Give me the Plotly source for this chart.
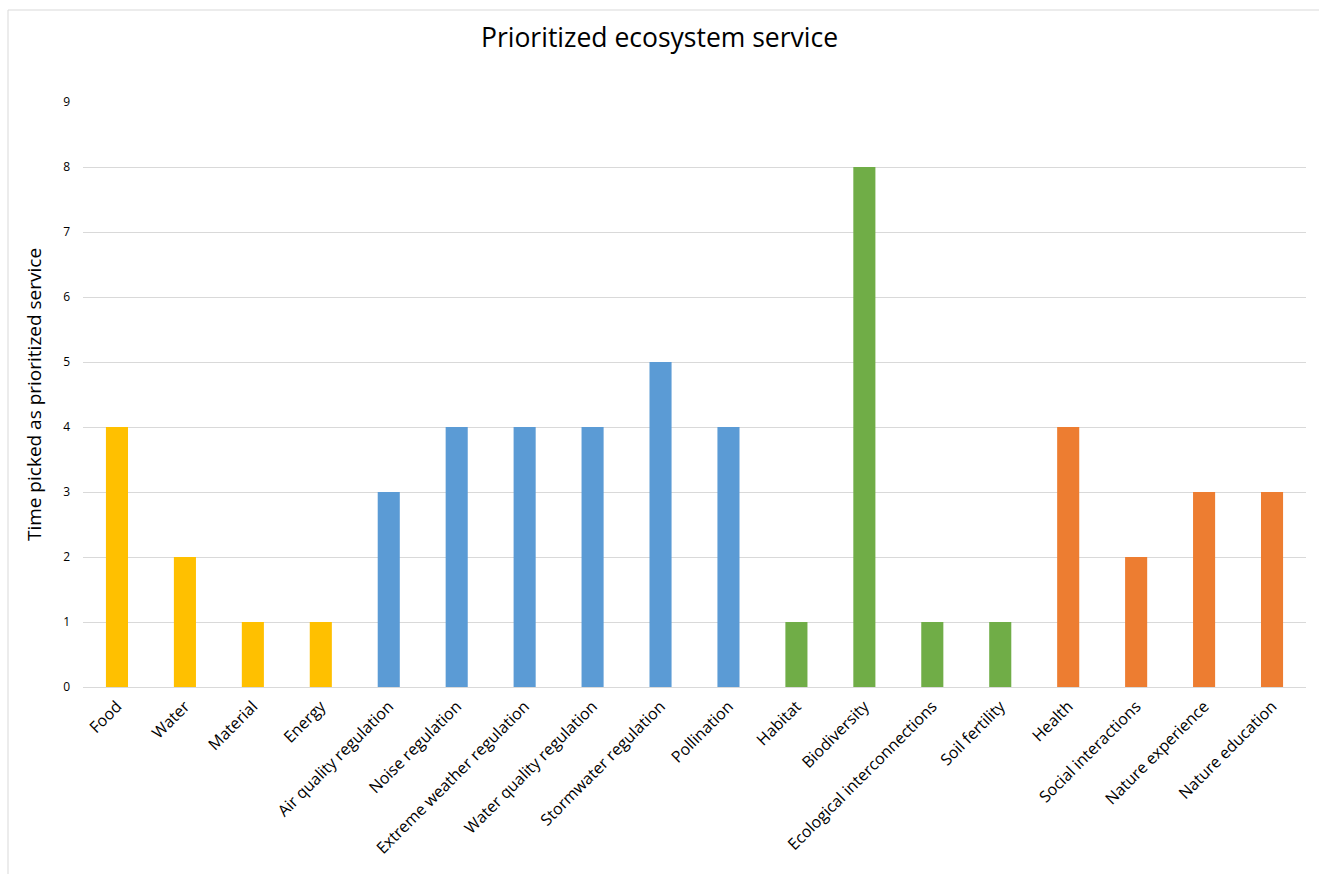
import plotly.graph_objects as go

categories = [
    "Food", "Water", "Material", "Energy",
    "Air quality regulation", "Noise regulation", "Extreme weather regulation",
    "Water quality regulation", "Stormwater regulation", "Pollination",
    "Habitat", "Biodiversity", "Ecological interconnections", "Soil fertility",
    "Health", "Social interactions", "Nature experience", "Nature education",
]
counts = [4, 2, 1, 1, 3, 4, 4, 4, 5, 4, 1, 8, 1, 1, 4, 2, 3, 3]
groups = ["prov"] * 4 + ["reg"] * 6 + ["sup"] * 4 + ["cult"] * 4
group_colors = {"prov": "#FFC000", "reg": "#5B9BD5", "sup": "#70AD47", "cult": "#ED7D31"}
y_ticks = list(range(0, 10))

W, H = 1319, 874
FONT = "Open Sans"

fig = go.Figure(go.Bar(
    x=categories,
    y=counts,
    marker=dict(color=[group_colors[g] for g in groups], line=dict(width=0)),
    width=0.325,
))

fig.update_layout(
    width=W, height=H,
    margin=dict(l=83, r=13, t=102, b=187),
    paper_bgcolor="white", plot_bgcolor="white",
    showlegend=False,
    font=dict(family=FONT, color="#000000"),
    title=dict(text="Prioritized ecosystem service", x=0.5, xanchor="center",
               y=1 - 38 / H, yanchor="middle",
               font=dict(size=26.5, family=FONT, color="#000000")),
    xaxis=dict(tickangle=-45, tickfont=dict(size=16, family=FONT), showgrid=False,
               showline=False, ticks="", range=[-0.5, 17.5], ticklabelstandoff=6),
    yaxis=dict(range=[0, 9], tickvals=y_ticks, tickfont=dict(size=12, family=FONT),
               showgrid=True, gridcolor="#D9D9D9", gridwidth=1, zeroline=True,
               zerolinecolor="#D9D9D9", zerolinewidth=1, showline=False, ticks="",
               ticklabelstandoff=12,
               title=dict(text="Time picked as prioritized service",
                          font=dict(size=19, family=FONT), standoff=16)),
    shapes=[dict(type="rect", xref="paper", yref="paper",
                 x0=(8 - 83) / (W - 96), x1=(W + 20 - 83) / (W - 96),
                 y0=(187 - 10 - H) / (H - 289), y1=(H - 10 - 187) / (H - 289),
                 line=dict(color="#D9D9D9", width=1), fillcolor="rgba(0,0,0,0)",
                 layer="below")],
)

fig.write_html("out.html")
